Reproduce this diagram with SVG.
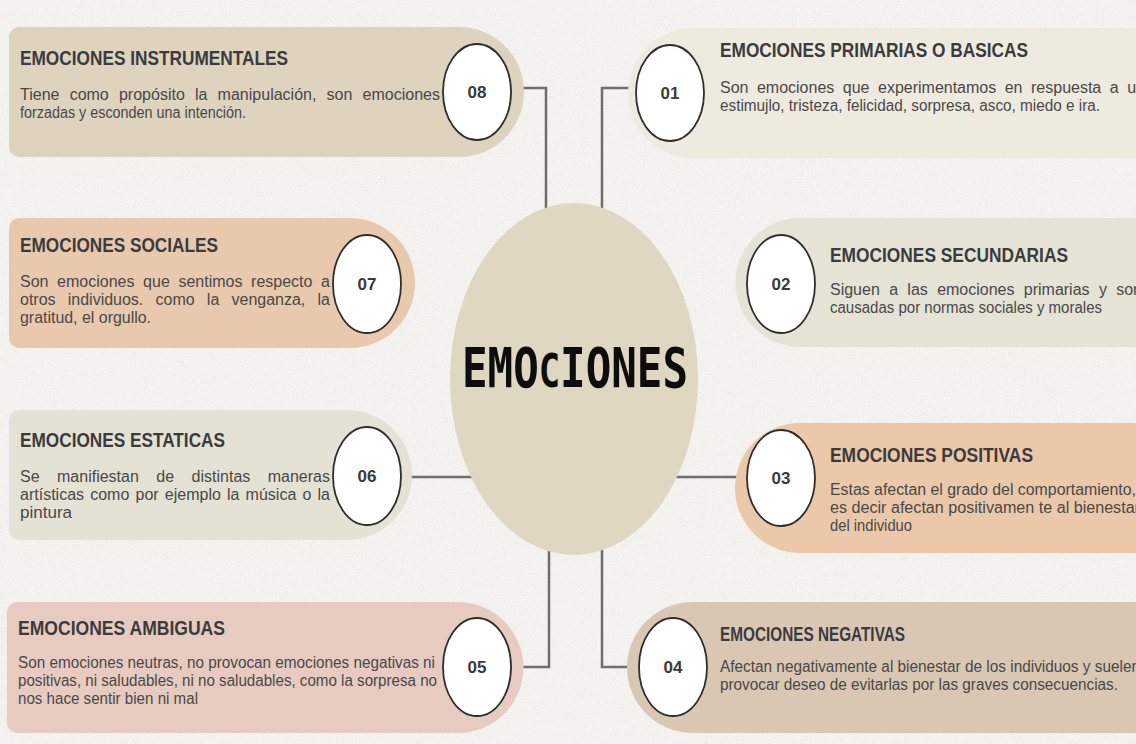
<svg xmlns="http://www.w3.org/2000/svg" width="1136" height="744" viewBox="0 0 1136 744">
  <defs>
    <filter id="noise" x="0" y="0" width="100%" height="100%">
      <feTurbulence type="fractalNoise" baseFrequency="0.9" numOctaves="2" seed="3" result="t"/>
      <feColorMatrix type="matrix" values="0 0 0 0 0.55  0 0 0 0 0.53  0 0 0 0 0.5  0 0 0 -2.2 1.25"/>
    </filter>
    <style>
      .title { font-family: "Liberation Sans", Arial, sans-serif; font-weight: bold; font-size: 20px; fill: #3b3b3d; }
      .body { font-family: "Liberation Sans", Arial, sans-serif; font-size: 16px; fill: #4a4848; }
      .num { font-family: "Liberation Sans", Arial, sans-serif; font-weight: bold; font-size: 17px; fill: #3a3a3c; text-anchor: middle; }
      .badge { fill: #ffffff; stroke: #2e2e2e; stroke-width: 1.8; }
      .conn { fill: none; stroke: #6e6e6e; stroke-width: 2.5; }
    </style>
  </defs>

  <rect x="0" y="0" width="1136" height="744" fill="#f5f4f1"/>
  <rect x="0" y="0" width="1136" height="744" filter="url(#noise)" opacity="0.22"/>

  <g id="connectors">
    <path class="conn" d="M522 88 H546 V212"/>
    <path class="conn" d="M630 88 H602 V212"/>
    <path class="conn" d="M410 477 H476"/>
    <path class="conn" d="M672 477 H738"/>
    <path class="conn" d="M521 667 H549 V546"/>
    <path class="conn" d="M630 667 H602 V546"/>
  </g>

  <g id="center">
    <ellipse cx="574" cy="379" rx="124" ry="176" fill="#e0d7c3"/>
    <text x="462" y="387" textLength="226" lengthAdjust="spacingAndGlyphs" font-family="'DejaVu Sans Mono', 'Liberation Mono', monospace" font-weight="bold" font-size="55" fill="#0d0d0d">EMO<tspan font-size="46">C</tspan>IONES</text>
  </g>

  <g id="node-08">
    <path d="M19 27 H459 A65 65 0 0 1 459 157 H19 A10 10 0 0 1 9 147 V37 A10 10 0 0 1 19 27 Z" fill="#ddd3bf"/>
    <ellipse class="badge" cx="477" cy="92" rx="34" ry="48"/>
    <text class="num" x="477" y="98">08</text>
    <text class="title" x="20" y="65" textLength="268" lengthAdjust="spacingAndGlyphs">EMOCIONES INSTRUMENTALES</text>
    <text class="body" x="20" y="100" word-spacing="5.7" textLength="420" lengthAdjust="spacing">Tiene como propósito la manipulación, son emociones</text>
    <text class="body" x="20" y="118" textLength="226" lengthAdjust="spacingAndGlyphs">forzadas y esconden una intención.</text>
  </g>

  <g id="node-01">
    <path d="M693 28 H1150 V158 H693 A65 65 0 0 1 693 28 Z" fill="#efeadf"/>
    <ellipse class="badge" cx="670" cy="93" rx="34" ry="48"/>
    <text class="num" x="670" y="99">01</text>
    <text class="title" x="720" y="57" textLength="308" lengthAdjust="spacingAndGlyphs">EMOCIONES PRIMARIAS O BASICAS</text>
    <text class="body" x="720" y="93" word-spacing="4.1" textLength="425" lengthAdjust="spacing">Son emociones que experimentamos en respuesta a un</text>
    <text class="body" x="720" y="111" textLength="380" lengthAdjust="spacingAndGlyphs">estimujlo, tristeza, felicidad, sorpresa, asco, miedo e ira.</text>
  </g>

  <g id="node-07">
    <path d="M19 218 H350 A65 65 0 0 1 350 348 H19 A10 10 0 0 1 9 338 V228 A10 10 0 0 1 19 218 Z" fill="#e9c9ad"/>
    <ellipse class="badge" cx="367" cy="284" rx="34" ry="49"/>
    <text class="num" x="367" y="290">07</text>
    <text class="title" x="20" y="252" textLength="198" lengthAdjust="spacingAndGlyphs">EMOCIONES SOCIALES</text>
    <text class="body" x="20" y="287" word-spacing="4.2" textLength="310" lengthAdjust="spacing">Son emociones que sentimos respecto a</text>
    <text class="body" x="20" y="305" word-spacing="7.8" textLength="310" lengthAdjust="spacing">otros individuos. como la venganza, la</text>
    <text class="body" x="20" y="323" textLength="131" lengthAdjust="spacingAndGlyphs">gratitud, el orgullo.</text>
  </g>

  <g id="node-02">
    <path d="M800 218 H1150 V347 H800 A64.5 64.5 0 0 1 800 218 Z" fill="#e4e3d6"/>
    <ellipse class="badge" cx="781" cy="284" rx="34" ry="49"/>
    <text class="num" x="781" y="290">02</text>
    <text class="title" x="830" y="262" textLength="238" lengthAdjust="spacingAndGlyphs">EMOCIONES SECUNDARIAS</text>
    <text class="body" x="830" y="295" word-spacing="4.9" textLength="312" lengthAdjust="spacing">Siguen a las emociones primarias y son</text>
    <text class="body" x="830" y="313" textLength="272" lengthAdjust="spacingAndGlyphs">causadas por normas sociales y morales</text>
  </g>

  <g id="node-06">
    <path d="M19 410 H347 A65 65 0 0 1 347 540 H19 A10 10 0 0 1 9 530 V420 A10 10 0 0 1 19 410 Z" fill="#e4e2d4"/>
    <ellipse class="badge" cx="367" cy="476" rx="34" ry="49"/>
    <text class="num" x="367" y="482">06</text>
    <text class="title" x="20" y="447" textLength="205" lengthAdjust="spacingAndGlyphs">EMOCIONES ESTATICAS</text>
    <text class="body" x="20" y="482" word-spacing="13" textLength="310" lengthAdjust="spacing">Se manifiestan de distintas maneras</text>
    <text class="body" x="20" y="500" word-spacing="1.7" textLength="310" lengthAdjust="spacing">artísticas como por ejemplo la música o la</text>
    <text class="body" x="20" y="518" textLength="52" lengthAdjust="spacingAndGlyphs">pintura</text>
  </g>

  <g id="node-03">
    <path d="M800 423 H1150 V553 H800 A65 65 0 0 1 800 423 Z" fill="#ebc8a9"/>
    <ellipse class="badge" cx="781" cy="478" rx="34" ry="48"/>
    <text class="num" x="781" y="484">03</text>
    <text class="title" x="830" y="462" textLength="203" lengthAdjust="spacingAndGlyphs">EMOCIONES POSITIVAS</text>
    <text class="body" x="830" y="495" textLength="306" lengthAdjust="spacingAndGlyphs">Estas afectan el grado del comportamiento,</text>
    <text class="body" x="830" y="513" textLength="310" lengthAdjust="spacingAndGlyphs">es decir afectan positivamen te al bienestar</text>
    <text class="body" x="830" y="531" textLength="82" lengthAdjust="spacingAndGlyphs">del individuo</text>
  </g>

  <g id="node-05">
    <path d="M17 602 H458 A65.5 65.5 0 0 1 458 733 H17 A10 10 0 0 1 7 723 V612 A10 10 0 0 1 17 602 Z" fill="#e8cbc0"/>
    <ellipse class="badge" cx="477" cy="667" rx="34" ry="49"/>
    <text class="num" x="477" y="673">05</text>
    <text class="title" x="18" y="635" textLength="207" lengthAdjust="spacingAndGlyphs">EMOCIONES AMBIGUAS</text>
    <text class="body" x="18" y="668" textLength="417" lengthAdjust="spacingAndGlyphs">Son emociones neutras, no provocan emociones negativas ni</text>
    <text class="body" x="18" y="686" textLength="419" lengthAdjust="spacingAndGlyphs">positivas, ni saludables, ni no saludables, como la sorpresa no</text>
    <text class="body" x="18" y="704" textLength="180" lengthAdjust="spacingAndGlyphs">nos hace sentir bien ni mal</text>
  </g>

  <g id="node-04">
    <path d="M692.5 602 H1150 V733 H692.5 A65.5 65.5 0 0 1 692.5 602 Z" fill="#d9c7b4"/>
    <ellipse class="badge" cx="673" cy="667" rx="34" ry="49"/>
    <text class="num" x="673" y="673">04</text>
    <text class="title" x="720" y="641" font-size="17.5" textLength="185" lengthAdjust="spacingAndGlyphs">EMOCIONES NEGATIVAS</text>
    <text class="body" x="720" y="672" textLength="420" lengthAdjust="spacingAndGlyphs">Afectan negativamente al bienestar de los individuos y suelen</text>
    <text class="body" x="720" y="690" textLength="398" lengthAdjust="spacingAndGlyphs">provocar deseo de evitarlas por las graves consecuencias.</text>
  </g>
</svg>
